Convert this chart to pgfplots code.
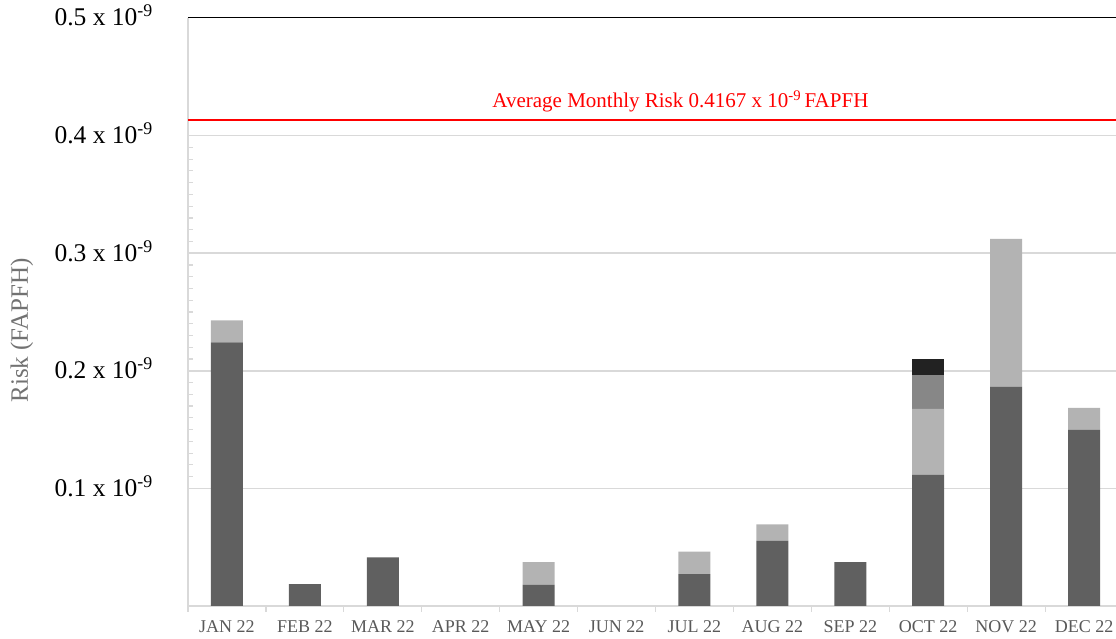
\documentclass[border=0pt]{standalone}
\usepackage{pgfplots}
\pgfplotsset{compat=1.18}
\usepackage{fontspec}
\setmainfont{Liberation Serif}

\definecolor{darkbar}{HTML}{606060}
\definecolor{lightbar}{HTML}{B3B3B3}
\definecolor{midbar}{HTML}{878787}
\definecolor{blackbar}{HTML}{222222}
\definecolor{gridgray}{HTML}{D9D9D9}
\definecolor{labelgray}{HTML}{595959}

\pgfplotsset{
  riskbox/.style={
    at={(0,0)}, anchor=south west,
    width=928pt, height=588pt,
    scale only axis,
    xmin=-0.5, xmax=11.41,
    ymin=0, ymax=0.5,
  },
}

\begin{document}
\begin{tikzpicture}
  \useasboundingbox (-188pt,-33pt) rectangle (928pt,606pt);
  \begin{axis}[
    riskbox,
    clip=false,
    ybar stacked,
    bar width=32pt,
    axis lines=left,
    axis line style={gridgray, line width=1.5pt, -},
    tick align=inside,
    major tick length=0pt,
    xtick={0,...,11},
    xticklabels={JAN 22,FEB 22,MAR 22,APR 22,MAY 22,JUN 22,JUL 22,AUG 22,SEP 22,OCT 22,NOV 22,DEC 22},
    x tick style={gridgray, line width=1.2pt},
    xticklabel style={font=\fontsize{18}{20}\selectfont, text=labelgray, anchor=base, inner sep=0pt, yshift=-27pt},
    extra x ticks={-0.5,0.5,...,10.5},
    extra x tick labels={},
    extra x tick style={tick align=outside, major tick length=6pt},
    ytick={0.1,0.2,0.3,0.4},
    yticklabels={\mbox{0.1 x 10\textsuperscript{-9}},\mbox{0.2 x 10\textsuperscript{-9}},\mbox{0.3 x 10\textsuperscript{-9}},\mbox{0.4 x 10\textsuperscript{-9}}},
    extra y ticks={0.5},
    extra y tick labels={\mbox{0.5 x 10\textsuperscript{-9}}},
    extra y tick style={major grid style={black, line width=1pt}},
    yticklabel style={font=\fontsize{25.5}{27}\selectfont, text=black, anchor=base east, inner sep=0pt, xshift=-35pt, yshift=-8pt},
    ymajorgrids,
    major grid style={gridgray, line width=1.5pt},
    minor y tick num=9,
    y tick style={gridgray, line width=1.2pt},
    minor tick length=5pt,
    ylabel={Risk (FAPFH)},
    every axis y label/.style={at={(axis description cs:-0.179,0.469)}, rotate=90, anchor=center},
    ylabel style={font=\fontsize{25}{27}\selectfont, text=labelgray!85},
  ]
    % dark segment
    \addplot[fill=darkbar, draw=none] coordinates {
      (0,0.2241) (1,0.0185) (2,0.0414) (3,0) (4,0.0179) (5,0)
      (6,0.0272) (7,0.0553) (8,0.0372) (9,0.1115) (10,0.1866) (11,0.1498)
    };
    % light segment
    \addplot[fill=lightbar, draw=none] coordinates {
      (0,0.0187) (1,0) (2,0) (3,0) (4,0.0193) (5,0)
      (6,0.0190) (7,0.0142) (8,0) (9,0.0562) (10,0.1255) (11,0.0187)
    };
    % mid grey segment
    \addplot[fill=midbar, draw=none] coordinates {
      (0,0) (1,0) (2,0) (3,0) (4,0) (5,0)
      (6,0) (7,0) (8,0) (9,0.0283) (10,0) (11,0)
    };
    % black segment
    \addplot[fill=blackbar, draw=none] coordinates {
      (0,0) (1,0) (2,0) (3,0) (4,0) (5,0)
      (6,0) (7,0) (8,0) (9,0.0142) (10,0) (11,0)
    };
  \end{axis}
  % average monthly risk line, drawn in an overlay axis of the same size
  \begin{axis}[
    riskbox,
    clip=false,
    axis lines=none,
  ]
    \addplot[red, line width=2pt, no marks] coordinates {(-0.5,0.4134) (11.41,0.4134)};
    \node[red, font=\fontsize{21}{23}\selectfont, anchor=base, inner sep=0pt]
      at (axis cs:5.82,0.4235) {Average Monthly Risk 0.4167 x 10\textsuperscript{-9}\,FAPFH};
  \end{axis}
\end{tikzpicture}
\end{document}
